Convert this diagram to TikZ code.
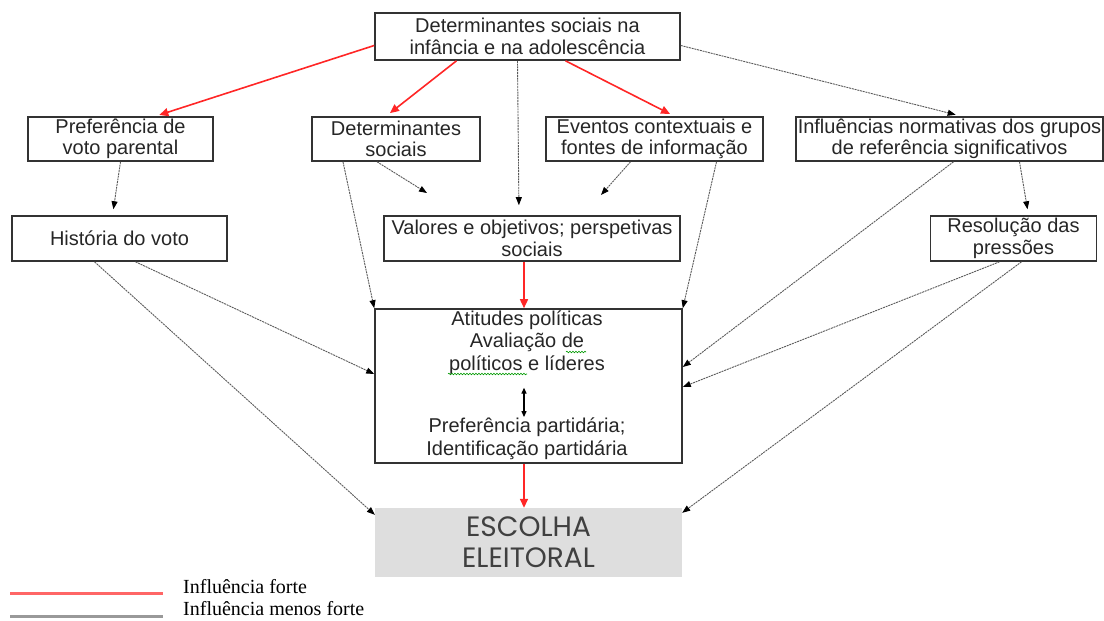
\documentclass[tikz,border=0pt]{standalone}
\usepackage{fontspec}
\setmainfont{Liberation Sans}
\newfontfamily\legendfont{Liberation Serif}
\newfontfamily\choicefont{Poppins}
\usepackage{xcolor}
\usepackage{tikz}
\usetikzlibrary{positioning, arrows.meta, calc, decorations.pathmorphing}
\definecolor{strongred}{rgb}{1, 0.15, 0.15}
\definecolor{weakgrey}{rgb}{0.35, 0.35, 0.35}
\definecolor{choicegrey}{rgb}{0.87, 0.87, 0.87}
\definecolor{legendred}{rgb}{1, 0.4, 0.4}
\definecolor{legendgrey}{rgb}{0.6, 0.6, 0.6}

\begin{document}
\begin{tikzpicture}[x=1pt, y=-1pt,
	box/.style={draw=black!80, line width=1.6pt, inner sep=0pt, align=center, text=black!85, font=\fontsize{20}{21.5}\selectfont},
	plain/.style={inner sep=0pt, align=center, text=black!85, font=\fontsize{20}{22.5}\selectfont},
	strong/.style={strongred, line width=1.6pt, -{Triangle[length=9pt,width=8pt]}},
	weak/.style={weakgrey, line width=0.9pt, dash pattern=on 2pt off 0.8pt, -{Triangle[length=8pt,width=6pt,color=black]}},
	legtext/.style={anchor=west, inner sep=0pt, font=\legendfont\fontsize{20}{24}\selectfont}]

\useasboundingbox (0,0) rectangle (1104,621);

% top row
\node[box, minimum width=305pt, minimum height=47pt] (top) at (527.5,36.5) {Determinantes sociais na\\infância e na adolescência};

\node[box, minimum width=185pt, minimum height=44pt] (pref) at (120.5,139) {Preferência de\\voto parental};
\node[box, minimum width=168pt, minimum height=44pt] (detsoc) at (396,139) {Determinantes\\sociais};
\node[box, minimum width=217pt, minimum height=44pt] (eventos) at (654.5,139) {Eventos contextuais e\\fontes de informação};
\node[box, minimum width=307pt, minimum height=44pt] (influ) at (949.5,139) {Influências normativas dos grupos\\de referência significativos};

\node[box, minimum width=215pt, minimum height=45pt] (hist) at (119.5,238.5) {História do voto};
\node[box, minimum width=296pt, minimum height=45pt] (valores) at (532,238.5) {Valores e objetivos; perspetivas\\sociais};
\node[box, minimum width=166pt, minimum height=45pt] (resol) at (1013.5,238.5) {Resolução das\\pressões};

% atitudes
\node[box, minimum width=307pt, minimum height=154pt] (atit) at (528.5,386) {};
\node[plain] (atitA) at (527,342.5) {Atitudes políticas\\Avaliação de\\políticos e líderes};
\node[plain] (atitB) at (527,439) {Preferência partidária;\\Identificação partidária};
\draw[black, line width=1.2pt, {Triangle[length=6pt,width=5pt]}-{Triangle[length=6pt,width=5pt]}] ([xshift=-3pt,yshift=-13pt]atitA.south) -- ([xshift=-3pt,yshift=1pt]atitB.north);
\draw[green!60!black, line width=0.6pt, decorate, decoration={snake, amplitude=0.8pt, segment length=3pt}] (448,374) -- (527,374);
\draw[green!60!black, line width=0.6pt, decorate, decoration={snake, amplitude=0.8pt, segment length=3pt}] (566,352) -- (586,352);

\node[fill=choicegrey, inner sep=0pt, minimum width=307pt, minimum height=69pt, align=center, text=black!75, font=\choicefont\fontsize{28}{31}\selectfont] (escolha) at (528.5,542.5) {ESCOLHA\\ELEITORAL};

% strong influences
\draw[strong, shorten >=4pt] ([yshift=-9pt]top.west) -- ([xshift=35pt]pref.north);
\draw[strong, shorten >=5pt] ([xshift=-71pt]top.south) -- ([xshift=-10pt]detsoc.north);
\draw[strong, shorten >=5pt] ([xshift=38pt]top.south) -- ([xshift=20pt]eventos.north);
\draw[strong] ([xshift=-8pt]valores.south) -- ([xshift=-4.5pt]atit.north);
\draw[strong] ([xshift=-4.5pt]atit.south) -- ([xshift=-4.5pt]escolha.north);

% weaker influences
\coordinate (toval1) at (427,193);
\coordinate (toval2) at (601,195);
\draw[weak, shorten >=10pt] ([xshift=-10pt]top.south) -- ([xshift=-13pt]valores.north);
\draw[weak, shorten >=6pt] ([yshift=-9pt]top.east) -- ([xshift=12pt]influ.north);
\draw[weak, shorten >=6pt] (pref.south) -- ([xshift=-7pt]hist.north);
\draw[weak] ([xshift=-19pt]detsoc.south) -- (toval1);
\draw[weak] ([xshift=-24pt]eventos.south) -- (toval2);
\draw[weak] ([xshift=62pt]eventos.south) -- (atit.north east);
\draw[weak] ([xshift=-53pt]detsoc.south) -- (atit.north west);
\draw[weak] ([xshift=16pt]hist.south) -- ([yshift=12pt]atit.west);
\draw[weak] ([xshift=-25pt]hist.south) -- ([yshift=-7pt]escolha.north west);
\draw[weak] ([xshift=4pt]influ.south) -- ([yshift=19pt]atit.east);
\draw[weak, shorten >=6pt] ([xshift=70pt]influ.south) -- ([xshift=15pt]resol.north);
\draw[weak] ([xshift=-14pt]resol.south) -- ([yshift=-1pt]atit.east);
\draw[weak] ([xshift=8pt]resol.south) -- ([yshift=-5pt]escolha.north east);

% legend
\node[legtext] (legforte) at (183,587) {Influência forte};
\node[legtext] (legmenos) at (183,609) {Influência menos forte};
\draw[legendred, line width=3pt] (10,593) -- (163,593);
\draw[legendgrey, line width=3pt] (10,616) -- (163,616);

\end{tikzpicture}
\end{document}
